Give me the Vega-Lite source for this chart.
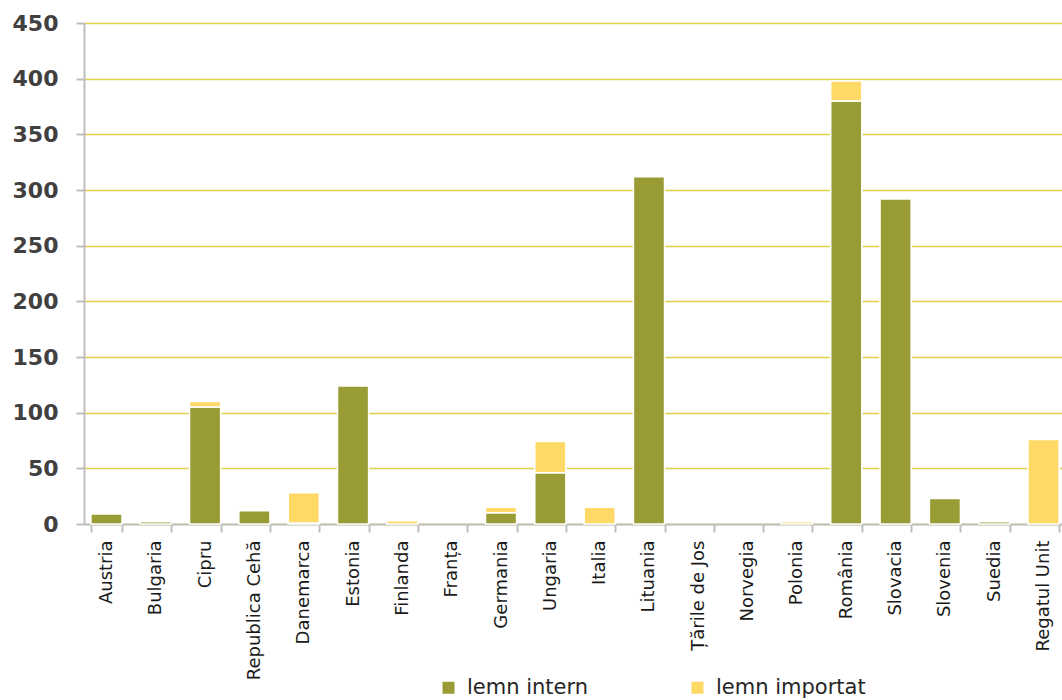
{
  "$schema": "https://vega.github.io/schema/vega-lite/v6.json",
  "autosize": {"type": "none"},
  "padding": {"left": 84, "top": 23, "right": 0, "bottom": 176},
  "width": 978,
  "height": 501,
  "background": "white",
  "data": {
    "values": [
      {"tara": "Austria", "tip": "lemn intern", "valoare": 9},
      {"tara": "Austria", "tip": "lemn importat", "valoare": 0},
      {"tara": "Bulgaria", "tip": "lemn intern", "valoare": 2},
      {"tara": "Bulgaria", "tip": "lemn importat", "valoare": 0},
      {"tara": "Cipru", "tip": "lemn intern", "valoare": 105},
      {"tara": "Cipru", "tip": "lemn importat", "valoare": 5},
      {"tara": "Republica Cehă", "tip": "lemn intern", "valoare": 12},
      {"tara": "Republica Cehă", "tip": "lemn importat", "valoare": 0},
      {"tara": "Danemarca", "tip": "lemn intern", "valoare": 1},
      {"tara": "Danemarca", "tip": "lemn importat", "valoare": 27},
      {"tara": "Estonia", "tip": "lemn intern", "valoare": 124},
      {"tara": "Estonia", "tip": "lemn importat", "valoare": 0},
      {"tara": "Finlanda", "tip": "lemn intern", "valoare": 0},
      {"tara": "Finlanda", "tip": "lemn importat", "valoare": 3},
      {"tara": "Franța", "tip": "lemn intern", "valoare": 0},
      {"tara": "Franța", "tip": "lemn importat", "valoare": 0},
      {"tara": "Germania", "tip": "lemn intern", "valoare": 10},
      {"tara": "Germania", "tip": "lemn importat", "valoare": 5},
      {"tara": "Ungaria", "tip": "lemn intern", "valoare": 46},
      {"tara": "Ungaria", "tip": "lemn importat", "valoare": 28},
      {"tara": "Italia", "tip": "lemn intern", "valoare": 0},
      {"tara": "Italia", "tip": "lemn importat", "valoare": 15},
      {"tara": "Lituania", "tip": "lemn intern", "valoare": 312},
      {"tara": "Lituania", "tip": "lemn importat", "valoare": 0},
      {"tara": "Țările de Jos", "tip": "lemn intern", "valoare": 0},
      {"tara": "Țările de Jos", "tip": "lemn importat", "valoare": 0},
      {"tara": "Norvegia", "tip": "lemn intern", "valoare": 0},
      {"tara": "Norvegia", "tip": "lemn importat", "valoare": 0},
      {"tara": "Polonia", "tip": "lemn intern", "valoare": 0},
      {"tara": "Polonia", "tip": "lemn importat", "valoare": 2},
      {"tara": "România", "tip": "lemn intern", "valoare": 380},
      {"tara": "România", "tip": "lemn importat", "valoare": 18},
      {"tara": "Slovacia", "tip": "lemn intern", "valoare": 292},
      {"tara": "Slovacia", "tip": "lemn importat", "valoare": 0},
      {"tara": "Slovenia", "tip": "lemn intern", "valoare": 23},
      {"tara": "Slovenia", "tip": "lemn importat", "valoare": 0},
      {"tara": "Suedia", "tip": "lemn intern", "valoare": 2},
      {"tara": "Suedia", "tip": "lemn importat", "valoare": 0},
      {"tara": "Regatul Unit", "tip": "lemn intern", "valoare": 0},
      {"tara": "Regatul Unit", "tip": "lemn importat", "valoare": 76}
    ]
  },
  "transform": [{"filter": "datum.valoare > 0"}],
  "mark": {"type": "bar", "stroke": "white", "strokeWidth": 1.5},
  "encoding": {
    "x": {
      "field": "tara",
      "type": "nominal",
      "sort": null,
      "title": null,
      "scale": {
        "domain": ["Austria", "Bulgaria", "Cipru", "Republica Cehă", "Danemarca", "Estonia", "Finlanda", "Franța", "Germania", "Ungaria", "Italia", "Lituania", "Țările de Jos", "Norvegia", "Polonia", "România", "Slovacia", "Slovenia", "Suedia", "Regatul Unit"],
        "range": [0, 982],
        "paddingInner": 0.37,
        "paddingOuter": 0.14
      },
      "axis": {
        "labelAngle": -90,
        "labelAlign": "right",
        "labelBaseline": "middle",
        "labelFont": "DejaVu Sans",
        "labelFontSize": 18,
        "labelColor": "#1a1a1a",
        "labelPadding": 8,
        "domainColor": "#bfbfbf",
        "domainWidth": 2,
        "tickColor": "#bfbfbf",
        "tickWidth": 2,
        "tickSize": 8,
        "tickBand": "extent"
      }
    },
    "y": {
      "field": "valoare",
      "type": "quantitative",
      "stack": "zero",
      "title": null,
      "scale": {"domain": [0, 450]},
      "axis": {
        "values": [0, 50, 100, 150, 200, 250, 300, 350, 400, 450],
        "labelFont": "DejaVu Sans",
        "labelFontSize": 22,
        "labelFontWeight": "bold",
        "labelColor": "#404040",
        "labelPadding": 18,
        "domainColor": "#bfbfbf",
        "domainWidth": 2,
        "tickColor": "#bfbfbf",
        "tickWidth": 2,
        "tickSize": 8,
        "gridColor": "#e0d04a",
        "gridWidth": 1.5
      }
    },
    "color": {
      "field": "tip",
      "type": "nominal",
      "scale": {"domain": ["lemn intern", "lemn importat"], "range": ["#999c34", "#ffd966"]},
      "legend": {
        "title": null,
        "orient": "none",
        "direction": "horizontal",
        "legendX": 354,
        "legendY": 654,
        "symbolType": "square",
        "symbolSize": 144,
        "symbolStrokeWidth": 0,
        "labelFont": "DejaVu Sans",
        "labelFontSize": 21,
        "labelColor": "#262626",
        "columnPadding": 98,
        "labelOffset": 8
      }
    },
    "order": {"field": "tip", "sort": "descending"}
  },
  "config": {"view": {"stroke": null}}
}
